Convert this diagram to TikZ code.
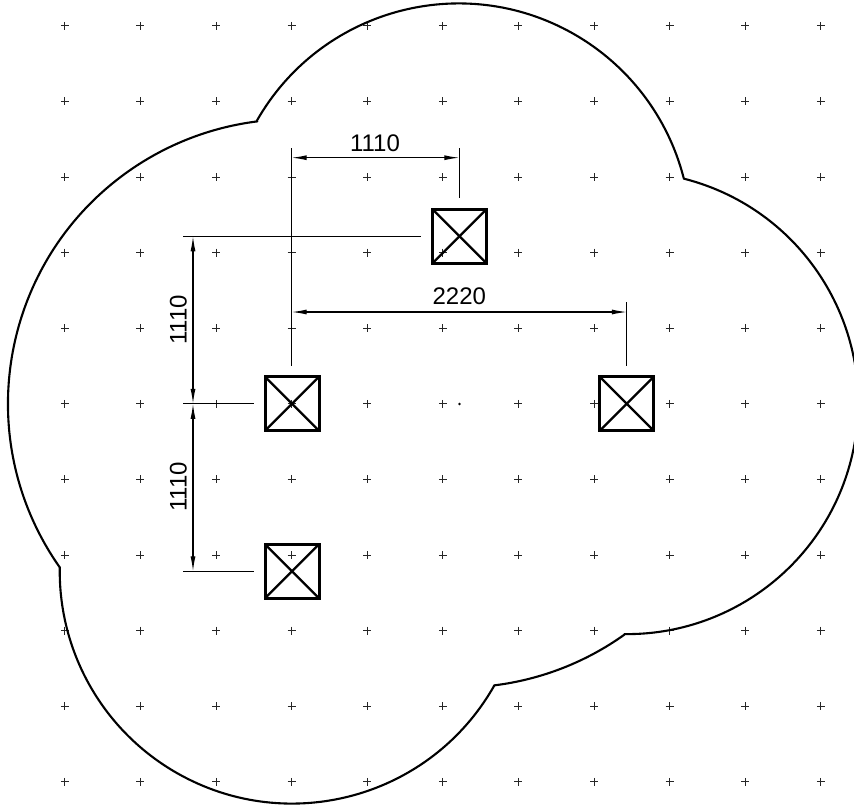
\documentclass[tikz,border=0pt]{standalone}
\usepackage{fontspec}
\setmainfont{Liberation Sans}
\usetikzlibrary{arrows.meta}
\tikzset{
    gridmark/.style={line width=1pt, black!85},
    outline/.style={line width=2.1pt, line join=round},
    column/.style={draw, line width=3pt, minimum size=54pt, outer sep=0pt, inner sep=0pt},
    diagonal/.style={line width=2.3pt},
    extline/.style={line width=1.1pt},
    dimline/.style={line width=1.1pt, <->, >={Latex[length=15pt,width=5pt]}},
    dimlabel/.style={font=\fontsize{24}{26}\selectfont, inner sep=0pt}
}
\begin{document}
\begin{tikzpicture}[x=1pt, y=-1pt]
    \useasboundingbox (0,0) rectangle (854,804);
    \clip (0,0) rectangle (854,804);
    % grid of marks
    \foreach \i in {0,...,10} {
        \foreach \j in {0,...,10} {
            \draw[gridmark] ({64.8+75.6*\i-4},{25.8+75.6*\j}) -- +(8,0) ({64.8+75.6*\i},{25.8+75.6*\j-4}) -- +(0,8);
        }
    }
    % outline
    \coordinate (cornerA) at (256.7,121);
    \coordinate (cornerB) at (684,178.7);
    \coordinate (cornerC) at (624.3,634.7);
    \coordinate (cornerD) at (494,686);
    \coordinate (cornerE) at (60,567.7);
    \draw[outline] (cornerE) arc[start angle=144.8, end angle=262.9, radius=284.5]
        -- (cornerA) arc[start angle=209.6, end angle=345.6, radius=232.3]
        -- (cornerB) arc[start angle=284.3, end angle=450.6, radius=231.3]
        -- (cornerC) arc[start angle=54.5, end angle=83, radius=284]
        -- (cornerD) arc[start angle=29.6, end angle=180.9, radius=232.3] -- cycle;
    % columns
    \node[column] (colTop) at (459.5,236.3) {};
    \node[column] (colLeft) at (292,403.8) {};
    \node[column] (colRight) at (626.8,403.8) {};
    \node[column] (colBottom) at (292,571.2) {};
    \foreach \c in {colTop,colLeft,colRight,colBottom} {
        \draw[diagonal] (\c.north west) -- (\c.south east);
        \draw[diagonal] (\c.north east) -- (\c.south west);
    }
    \fill (459.5,404) circle (1.3);
    % extension lines
    \coordinate (extA) at (291.7,148);
    \coordinate (extB) at (291.7,365.7);
    \coordinate (extC) at (459.3,148);
    \coordinate (extD) at (459.3,197.7);
    \coordinate (extE) at (626.8,302.3);
    \coordinate (extF) at (626.8,365.7);
    \coordinate (extG) at (183.3,236.3);
    \coordinate (extH) at (420.7,236.3);
    \coordinate (extI) at (183.3,403.8);
    \coordinate (extJ) at (253.7,403.8);
    \coordinate (extK) at (183.3,571.3);
    \coordinate (extL) at (253.7,571.3);
    \draw[extline] (extA) -- (extB);
    \draw[extline] (extC) -- (extD);
    \draw[extline] (extE) -- (extF);
    \draw[extline] (extG) -- (extH);
    \draw[extline] (extI) -- (extJ);
    \draw[extline] (extK) -- (extL);
    % dimensions
    \coordinate (dimA) at (291.7,157.7);
    \coordinate (dimB) at (459.3,157.7);
    \coordinate (dimC) at (291.7,312);
    \coordinate (dimD) at (626.8,312);
    \coordinate (dimE) at (193,236.3);
    \coordinate (dimF) at (193,403.8);
    \coordinate (dimG) at (193,571.3);
    \draw[dimline] (dimA) -- (dimB);
    \draw[dimline] (dimC) -- (dimD);
    \draw[dimline] (dimE) -- (dimF);
    \draw[dimline] (dimF) -- (dimG);
    \node[dimlabel] (labelA) at (375,143) {1110};
    \node[dimlabel] (labelB) at (459.3,296.7) {2220};
    \node[dimlabel, rotate=90] (labelC) at (178.3,320) {1110};
    \node[dimlabel, rotate=90] (labelD) at (178.3,487) {1110};
\end{tikzpicture}
\end{document}
